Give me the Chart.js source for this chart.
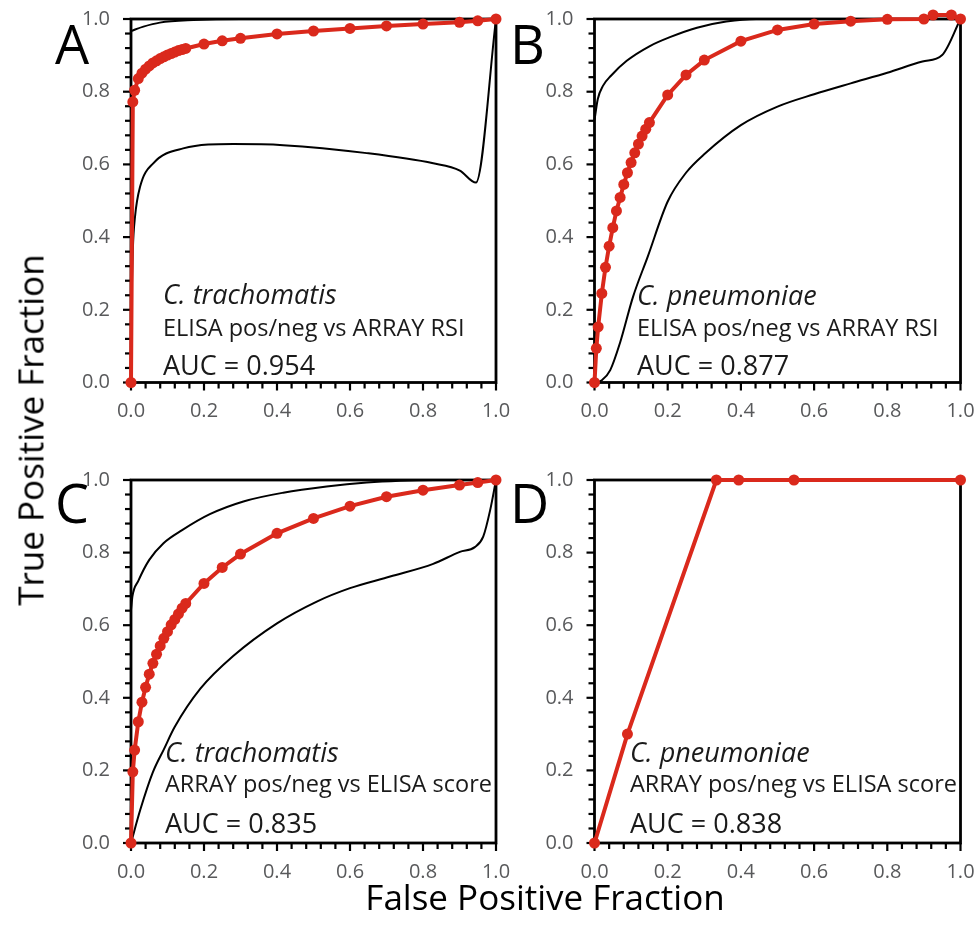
<!DOCTYPE html>
<html>
<head>
<meta charset="utf-8">
<script src="https://cdn.jsdelivr.net/npm/chart.js@4/dist/chart.umd.min.js"></script>
<style>
body { margin: 0; background: #fff; }
#wrap { position: relative; width: 980px; height: 940px; font-family: "Open Sans", sans-serif; color: #1a1a1a; overflow: hidden; }
#wrap canvas { position: absolute; }
.txt { position: absolute; white-space: nowrap; line-height: 1; }
.letter { position: absolute; white-space: nowrap; line-height: 1; color: #000; }
.axtitle { position: absolute; white-space: nowrap; line-height: 1; font-size: 35px; color: #000; transform: translate(-50%, -50%); }
</style>
</head>
<body>
<div id="wrap">
  <canvas id="chartA" width="516" height="440" style="left:0px;top:0px"></canvas>
  <canvas id="chartB" width="510" height="440" style="left:470px;top:0px"></canvas>
  <canvas id="chartC" width="516" height="460" style="left:0px;top:440px"></canvas>
  <canvas id="chartD" width="510" height="460" style="left:470px;top:440px"></canvas>
  <div class="axtitle" style="left:30px;top:430px;transform:translate(-50%,-50%) rotate(-90deg)">True Positive Fraction</div>
  <div class="axtitle" style="left:545px;top:896px">False Positive Fraction</div>
</div>
<script>
// A: C. trachomatis, ELISA pos/neg vs ARRAY RSI
const aFpf = [0, 0.005, 0.01, 0.02, 0.03, 0.04, 0.05, 0.06, 0.07, 0.08, 0.09, 0.10, 0.11, 0.12, 0.13, 0.14, 0.15, 0.2, 0.25, 0.3, 0.4, 0.5, 0.6, 0.7, 0.8, 0.9, 0.95, 1.0];
const aTpf = [0, 0.772, 0.804, 0.836, 0.851, 0.862, 0.871, 0.879, 0.885, 0.891, 0.896, 0.901, 0.905, 0.909, 0.913, 0.916, 0.919, 0.931, 0.940, 0.947, 0.959, 0.967, 0.974, 0.981, 0.986, 0.991, 0.995, 1.0];
const aHiX = [0, 0.034, 0.079, 0.171, 0.3, 1.0];
const aHiY = [0.967, 0.979, 0.990, 0.997, 1.0, 1.0];
const aLoX = [0, 0.002, 0.005, 0.011, 0.025, 0.061, 0.143, 0.28, 0.417, 0.646, 0.828, 0.901, 0.945, 1.0];
const aLoY = [0, 0.227, 0.365, 0.456, 0.539, 0.603, 0.644, 0.656, 0.653, 0.631, 0.603, 0.583, 0.550, 1.0];

// B: C. pneumoniae, ELISA pos/neg vs ARRAY RSI
const bFpf = [0, 0.005, 0.01, 0.02, 0.03, 0.04, 0.05, 0.06, 0.07, 0.08, 0.09, 0.10, 0.11, 0.12, 0.13, 0.14, 0.15, 0.2, 0.25, 0.3, 0.4, 0.5, 0.6, 0.7, 0.8, 0.9, 0.925, 0.975, 1.0];
const bTpf = [0, 0.094, 0.153, 0.245, 0.317, 0.375, 0.426, 0.472, 0.509, 0.545, 0.577, 0.605, 0.632, 0.656, 0.678, 0.697, 0.715, 0.791, 0.846, 0.887, 0.939, 0.970, 0.986, 0.994, 0.999, 1.0, 1.011, 1.011, 1.0];
const bHiX = [0, 0.009, 0.023, 0.045, 0.088, 0.15, 0.206, 0.28, 0.36, 0.442, 1.0];
const bHiY = [0.722, 0.780, 0.816, 0.844, 0.885, 0.925, 0.950, 0.976, 0.993, 1.0, 1.0];
const bLoX = [0, 0.02, 0.043, 0.07, 0.105, 0.145, 0.2, 0.25, 0.302, 0.4, 0.5, 0.6, 0.7, 0.8, 0.896, 0.95, 1.0];
const bLoY = [0, 0.006, 0.034, 0.11, 0.235, 0.345, 0.498, 0.577, 0.630, 0.708, 0.759, 0.793, 0.823, 0.852, 0.883, 0.901, 1.0];

// C: C. trachomatis, ARRAY pos/neg vs ELISA score
const cFpf = [0, 0.005, 0.01, 0.02, 0.03, 0.04, 0.05, 0.06, 0.07, 0.08, 0.09, 0.10, 0.11, 0.12, 0.13, 0.14, 0.15, 0.2, 0.25, 0.3, 0.4, 0.5, 0.6, 0.7, 0.8, 0.9, 0.95, 1.0];
const cTpf = [0, 0.196, 0.256, 0.334, 0.388, 0.429, 0.465, 0.495, 0.520, 0.543, 0.564, 0.582, 0.601, 0.616, 0.631, 0.647, 0.660, 0.715, 0.759, 0.796, 0.853, 0.894, 0.928, 0.954, 0.972, 0.986, 0.993, 1.0];
const cHiX = [0, 0.004, 0.02, 0.05, 0.089, 0.14, 0.216, 0.308, 0.417, 0.536, 0.646, 0.737, 0.83, 1.0];
const cHiY = [0.642, 0.680, 0.722, 0.780, 0.826, 0.862, 0.906, 0.941, 0.965, 0.982, 0.993, 0.998, 1.0, 1.0];
const cLoX = [0, 0.025, 0.06, 0.09, 0.12, 0.19, 0.28, 0.4, 0.509, 0.6, 0.71, 0.828, 0.901, 0.942, 0.965, 0.984, 1.0];
const cLoY = [0, 0.090, 0.195, 0.258, 0.320, 0.425, 0.515, 0.605, 0.665, 0.702, 0.734, 0.769, 0.802, 0.815, 0.844, 0.917, 1.0];

// D: C. pneumoniae, ARRAY pos/neg vs ELISA score
const dFpf = [0, 0.09, 0.333, 0.394, 0.545, 1.0];
const dTpf = [0, 0.30, 1.0, 1.0, 1.0, 1.0];

const panelLetters = ["A", "B", "C", "D"];
const speciesNames = ["C. trachomatis", "C. pneumoniae", "C. trachomatis", "C. pneumoniae"];
const comparisons = ["ELISA pos/neg vs ARRAY RSI", "ELISA pos/neg vs ARRAY RSI", "ARRAY pos/neg vs ELISA score", "ARRAY pos/neg vs ELISA score"];
const aucLabels = ["AUC = 0.954", "AUC = 0.877", "AUC = 0.835", "AUC = 0.838"];

const red = "#DA291C";

function toPoints(xs, ys) {
    return xs.map(function (x, i) { return { x: x, y: ys[i] }; });
}

function isMajor(v) {
    return Math.abs(v * 5 - Math.round(v * 5)) < 1e-6;
}

// box round the plot and the small tick marks
const framePlugin = {
    id: "frame",
    beforeDatasetsDraw(chart) {
	const ctx = chart.ctx;
	const a = chart.chartArea;
	const xs = chart.scales.x;
	const ys = chart.scales.y;
	ctx.save();
	ctx.strokeStyle = "#000";
	ctx.lineWidth = 2.2;
	xs.ticks.forEach(function (t) {
	    const px = xs.getPixelForValue(t.value);
	    const len = isMajor(t.value) ? 8 : 6;
	    ctx.beginPath();
	    ctx.moveTo(px, a.bottom);
	    ctx.lineTo(px, a.bottom + len);
	    ctx.stroke();
	});
	ys.ticks.forEach(function (t) {
	    const py = ys.getPixelForValue(t.value);
	    const len = isMajor(t.value) ? 8 : 6;
	    ctx.beginPath();
	    ctx.moveTo(a.left, py);
	    ctx.lineTo(a.left - len, py);
	    ctx.stroke();
	});
	ctx.lineWidth = 2.8;
	ctx.strokeRect(a.left, a.top, a.right - a.left, a.bottom - a.top);
	ctx.restore();
    }
};

// tick marks are drawn by framePlugin, tickLength only keeps the labels away from the axis
function makeScale(gap, fitFn) {
    return {
	type: "linear",
	min: 0,
	max: 1,
	grid: { display: false, drawTicks: true, tickLength: gap },
	border: { display: false },
	ticks: {
	    stepSize: 0.04,
	    autoSkip: false,
	    maxRotation: 0,
	    padding: 3,
	    color: "#58595b",
	    font: { family: "Open Sans", size: 20 },
	    callback: function (v) { return isMajor(v) ? v.toFixed(1) : ""; }
	},
	afterFit: fitFn
    };
}

function drawPanel(id, redX, redY, hiX, hiY, loX, loY, yWidth, xHeight, pad) {
    const datasets = [{
	data: toPoints(redX, redY),
	borderColor: red,
	backgroundColor: red,
	borderWidth: 4,
	pointRadius: 5.5,
	pointBorderWidth: 0,
	pointBackgroundColor: red,
	tension: 0,
	clip: false
    }];
    if (hiX) {
	[[hiX, hiY], [loX, loY]].forEach(function (c) {
	    datasets.push({
		data: toPoints(c[0], c[1]),
		borderColor: "#000",
		borderWidth: 2,
		pointRadius: 0,
		cubicInterpolationMode: "monotone",
		clip: false
	    });
	});
    }
    new Chart(document.getElementById(id), {
	type: "line",
	data: { datasets: datasets },
	options: {
	    responsive: false,
	    animation: false,
	    layout: { padding: pad },
	    plugins: { legend: { display: false }, tooltip: { enabled: false } },
	    scales: {
		x: makeScale(14, function (s) { s.height = xHeight; }),
		y: makeScale(18, function (s) { s.width = yWidth; })
	    }
	},
	plugins: [framePlugin]
    });
}

drawPanel("chartA", aFpf, aTpf, aHiX, aHiY, aLoX, aLoY, 131, 57.5, { left: 0, top: 19, right: 20, bottom: 0 });
drawPanel("chartB", bFpf, bTpf, bHiX, bHiY, bLoX, bLoY, 124.5, 57.5, { left: 0, top: 19, right: 19.5, bottom: 0 });
drawPanel("chartC", cFpf, cTpf, cHiX, cHiY, cLoX, cLoY, 131, 57, { left: 0, top: 40, right: 20, bottom: 0 });
drawPanel("chartD", dFpf, dTpf, null, null, null, null, 124.5, 57, { left: 0, top: 40, right: 19.5, bottom: 0 });

// texts inside the plots, left edge and baseline
const wrap = document.getElementById("wrap");
function placeText(text, left, baseline, size, cls, italic) {
    const d = document.createElement("div");
    d.className = cls;
    d.textContent = text;
    d.style.fontSize = size + "px";
    d.style.left = left + "px";
    d.style.top = (baseline - 0.888 * size) + "px";
    if (italic) {
	d.style.fontStyle = "italic";
    }
    wrap.appendChild(d);
}
const textLeft = [163, 637, 165, 630];
const textBase = [[304, 337, 375], [305, 337, 375], [762, 793, 833], [762, 793, 833]];
for (let i = 0; i < 4; i++) {
    placeText(speciesNames[i], textLeft[i], textBase[i][0], 27, "txt", true);
    placeText(comparisons[i], textLeft[i], textBase[i][1], 23.5, "txt", false);
    placeText(aucLabels[i], textLeft[i], textBase[i][2], 27, "txt", false);
}
const letterPos = [[55, 64], [510, 64], [55, 523], [510, 523]];
for (let i = 0; i < 4; i++) {
    placeText(panelLetters[i], letterPos[i][0], letterPos[i][1], 54, "letter", false);
}
</script>
</body>
</html>
